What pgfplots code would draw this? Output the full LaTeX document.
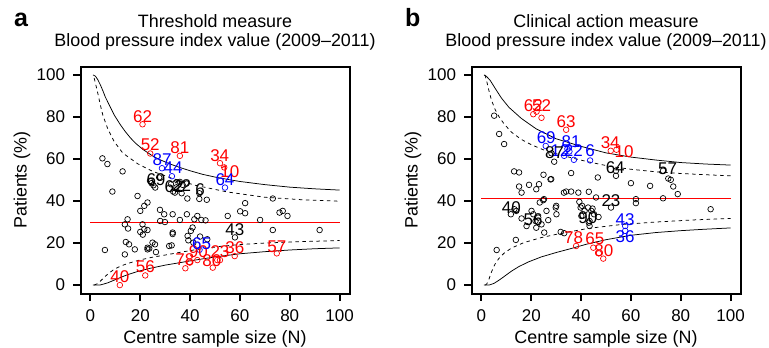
\documentclass[border=0pt]{standalone}
\usepackage{pgfplots}
\pgfplotsset{compat=1.18}
\usepackage{fontspec}
\setmainfont{Liberation Sans}
\definecolor{rred}{RGB}{255,0,0}
\definecolor{rblue}{RGB}{0,0,255}
\newcommand{\fs}{\fontsize{17bp}{20bp}\selectfont}
\pgfplotsset{
  funnel/.style={
    scale only axis, width=269bp, height=227bp,
    xmin=-4, xmax=104, ymin=-4, ymax=104,
    xtick={0,20,...,100}, ytick={0,20,...,100},
    tick align=outside, xtick pos=left, ytick pos=left,
    major tick length=7.5bp,
    tick style={black, line width=1bp},
    axis line style={black, line width=1bp},
    /pgf/number format/assume math mode=true,
    ticklabel style={font=\fs},
    yticklabel style={xshift=-4.5bp},
    xticklabel style={yshift=-5bp},
  },
  pts/.style={only marks, mark=o, mark size=2.8bp, mark options={line width=0.7bp, draw=#1}},
  lab/.style={only marks, mark=none, nodes near coords={\pgfplotspointmeta}, point meta=explicit symbolic,
     nodes near coords style={anchor=center, inner sep=0pt, text=#1, font=\fs}},
  sol/.style={black, line width=0.75bp, mark=none},
  das/.style={black, line width=0.75bp, mark=none, dash pattern=on 3.5bp off 3.5bp},
  ctr/.style={rred, line width=0.9bp, mark=none},
}
\begin{document}
\begin{tikzpicture}[x=1bp,y=1bp]
\useasboundingbox (0,0) rectangle (769,347);
% frames and ticks drawn first (as in the render where they showed)
\fill[white] (80.5,53.5) rectangle (349.5,280.5);
\fill[white] (471.5,53.5) rectangle (740.5,280.5);
\draw[black, line width=2bp] (80.5,53.5) -- (349.5,53.5) -- (349.5,280.5) -- (80.5,280.5) -- cycle;
\draw[black, line width=2bp] (471.5,53.5) -- (740.5,53.5) -- (740.5,280.5) -- (471.5,280.5) -- cycle;
\foreach \v in {0,20,40,60,80,100} {
  \draw[black, line width=2bp] (90.46+\v*2.4907,53.5) -- ++(0,-7.5);
  \draw[black, line width=2bp] (481.46+\v*2.4907,53.5) -- ++(0,-7.5);
  \draw[black, line width=2bp] (80.5,61.91+\v*2.1019) -- ++(-7.5,0);
  \draw[black, line width=2bp] (471.5,61.91+\v*2.1019) -- ++(-7.5,0);
}
% ---------------- panel a ----------------
\begin{axis}[funnel, at={(80.5bp,53.5bp)}, anchor=south west]
\addplot[ctr] coordinates {(0,29.7) (100,29.7)};
\addplot[sol] table {
x y
1 100
2 99.4
3 97.6
4 95.2
5 92.4
6 89.4
7.5 85.8
9.5 81
12 76.3
14 73
16 70.1
18 67.6
21 64.6
25 61.4
28 59.6
32 57.6
36 55.9
40 54.4
45 52.7
50 51.4
55 50.3
60 49.3
70 47.8
80 46.6
90 45.8
100 45.2
};
\addplot[sol] table {
x y
1 0
3 0
4 0.1
5 0.4
7 1.1
9 2.1
12 3.6
15 5.0
19 6.5
24 8.0
30 9.5
36 10.7
42 11.9
50 13.4
60 14.9
70 15.9
80 16.7
90 17.3
100 17.7
};
\addplot[das] table {
x y
1.5 98.5
2 96
3 91
4 85.5
5 80.7
7 74.2
9.5 68.3
13 62.8
19 57.7
25 54.1
33 50.7
42 47.5
55 44.3
70 41.8
85 40.6
100 39.9
};
\addplot[das] table {
x y
1.5 0
3 0.8
4 1.9
5 3.1
7 5.3
9.5 7.5
12 9.0
15 10.3
20 12.0
25 13.3
30 14.3
36 15.6
42 16.8
52 18.4
60 19.3
70 20.0
85 20.7
100 21.2
};
\addplot[pts=black] table {
x y
4.8 60.3
6.8 57.6
12.9 54.1
8.8 44.5
18.9 42.4
22.9 39.3
21.6 37.7
20.0 35.3
23.9 49.6
24.5 48.5
26.0 46.4
27.6 51.2
25.3 47.5
32.3 48.0
33.2 44.5
33.9 44.0
35.9 49.1
37.0 47.7
38.6 48.3
36.6 43.7
38.9 41.2
34.5 46.5
43.7 43.7
43.7 41.0
46.7 40.6
27.9 35.8
29.6 33.7
33.0 33.7
38.7 33.7
28.0 30.5
29.9 30.0
35.9 31.0
14.9 31.3
13.8 28.9
15.1 26.9
20.9 28.9
21.6 26.6
20.0 25.3
22.9 26.2
21.0 24.0
33.0 25.0
33.0 24.3
40.3 25.8
41.0 27.4
39.0 23.4
41.7 31.3
42.9 32.9
44.5 31.0
46.2 30.8
44.0 23.1
46.9 21.8
55.1 32.9
60.1 35.1
62.1 39.0
62.1 34.2
68.1 31.0
73.2 41.2
73.2 26.2
75.9 34.5
77.2 35.3
79.1 32.9
92.0 26.2
58.0 22.7
5.8 16.7
14.2 20.5
15.5 19.4
13.8 14.6
17.8 17.0
22.9 17.0
24.9 20.2
25.9 19.4
26.3 15.7
23.6 17.4
22.9 17.8
31.6 18.6
32.6 18.9
39.3 21.3
41.3 20.2
};
\addplot[pts=rred] table {
x y
20.9 76.5
24.0 62.6
35.9 61.5
52.0 58.0
53.7 56.0
11.8 0.0
22.0 4.6
38.1 8.0
39.9 10.7
42.9 11.9
49.1 8.3
50.9 11.9
52.0 11.9
57.9 13.8
74.8 15.1
};
\addplot[pts=rblue] table {
x y
28.7 55.6
32.7 51.8
54.0 46.4
43.8 16.8
};
\addplot[lab=rred] table[meta=l] {
x y l
20.9 80.3 62
24.0 66.6 52
35.9 65.2 81
51.9 61.8 34
56.0 54.2 10
11.8 4.0 40
22.0 8.6 56
37.9 12.2 78
43.3 15.7 90
48.7 11.5 80
52.0 15.7 23
58.0 17.8 36
74.8 18.1 57
};
\addplot[lab=rblue] table[meta=l] {
x y l
28.8 59.5 87
33.2 56.0 44
54.0 50.4 64
44.6 19.7 65
};
\addplot[lab=black] table[meta=l] {
x y l
26.3 50.4 69
33.6 46.9 62
36.6 47.2 22
44.0 45.6 6
58.0 26.6 43
};
\end{axis}
% ---------------- panel b ----------------
\begin{axis}[funnel, at={(471.5bp,53.5bp)}, anchor=south west]
\addplot[ctr] coordinates {(0,41.3) (100,41.3)};
\addplot[sol] table {
x y
1 100
2 99.3
3.5 97.4
5.5 93.6
8 89
11 84.6
16 79.3
22 74.3
30 69.6
40 66
50 62.9
60 60.9
70 59.5
80 58.3
90 57.6
100 57.1
};
\addplot[sol] table {
x y
1 0
3 0
5 0.8
7 2.3
9 4.0
12 6.6
15 8.8
19 11.1
24 13.4
30 15.5
36 17.4
42 19.4
50 21.6
60 23.7
70 25.0
80 25.9
90 26.6
100 27.2
};
\addplot[das] table {
x y
1.4 100
2 97.5
3 92.5
4 88
5.5 83.5
7 80.2
9 76.8
12 72.8
16 69.3
20 66.8
25 64.3
30 62.5
36 60.6
43 58.6
52 56.4
60 55.1
70 53.9
80 53.1
90 52.5
100 52
};
\addplot[das] table {
x y
1.5 0
2.1 0.5
3 2.8
4 6.2
5.4 9.9
7 12.7
9 15.1
12 17.6
17 20.2
24 22.6
31 24.4
43 27
56 28.8
70 30
85 31
100 31.7
};
\addplot[pts=black] table {
x y
5.1 80.6
7.1 71.9
9.1 67.1
6.1 16.7
13.1 54.1
15.1 53.6
15.1 46.9
16.1 44.0
19.1 47.7
22.0 45.6
23.1 48.0
24.9 52.5
28.0 50.4
27.7 50.3
28.1 62.7
29.2 58.7
33.1 44.0
34.0 44.5
36.0 44.5
36.0 53.3
38.9 44.0
43.1 44.4
46.7 51.2
46.0 41.7
52.0 36.9
54.0 52.0
54.0 54.4
60.0 48.5
67.7 47.2
72.9 54.4
75.0 50.7
76.0 50.1
77.0 46.9
78.8 43.3
72.9 41.3
62.0 40.9
62.0 39.0
92.0 36.1
44.6 36.4
47.0 32.4
39.3 39.6
39.8 36.9
40.4 37.7
41.4 35.3
42.8 36.9
44.1 35.3
45.2 33.7
40.1 32.9
43.4 30.5
43.4 28.1
43.1 29.7
30.0 37.7
30.1 33.7
29.8 36.9
25.1 40.9
24.8 40.4
23.4 39.3
26.1 35.3
26.8 30.9
24.1 28.9
20.1 35.3
20.8 33.7
21.7 30.5
22.8 32.1
22.0 27.3
18.1 28.1
16.1 31.7
14.0 35.3
13.2 36.1
11.8 33.7
13.8 21.5
25.2 25.0
31.8 25.3
33.2 24.7
};
\addplot[pts=rred] table {
x y
20.8 81.3
22.1 82.5
24.1 79.6
34.0 73.9
51.9 63.9
54.2 64.4
38.0 18.6
44.9 17.8
47.1 15.1
48.9 12.6
};
\addplot[pts=rblue] table {
x y
25.8 66.2
33.2 61.5
34.5 64.8
35.3 63.6
37.1 59.6
43.6 59.3
57.7 28.1
57.7 25.8
};
\addplot[lab=rred] table[meta=l] {
x y l
20.8 85.4 62
24.1 85.4 52
34.0 77.7 63
51.7 67.9 34
57.3 63.4 10
37.0 22.6 78
45.5 22.1 65
49.1 16.2 80
};
\addplot[lab=rblue] table[meta=l] {
x y l
26.0 70.3 69
36.0 68.2 81
31.6 64.2 12
36.9 64.2 22
43.6 63.9 6
57.7 31.3 43
57.7 23.1 36
};
\addplot[lab=black] table[meta=l] {
x y l
29.3 63.1 87
12.0 36.9 40
20.7 31.3 56
42.7 32.1 90
52.0 40.4 23
53.7 56.0 64
74.7 55.2 57
};
\end{axis}
% ---------------- titles and labels ----------------
\node[anchor=base west, inner sep=0, font=\fontsize{25bp}{28bp}\selectfont\bfseries] at (14,320.3) {a};
\node[anchor=base west, inner sep=0, font=\fontsize{25bp}{28bp}\selectfont\bfseries] at (405,320.3) {b};
\node[anchor=base, inner sep=0, font=\fontsize{17.9bp}{20bp}\selectfont] at (215,319.3) {Threshold measure};
\node[anchor=base, inner sep=0, font=\fontsize{17.9bp}{20bp}\selectfont] at (215,300.3) {Blood pressure index value (2009–2011)};
\node[anchor=base, inner sep=0, font=\fontsize{17.9bp}{20bp}\selectfont] at (606,319.3) {Clinical action measure};
\node[anchor=base, inner sep=0, font=\fontsize{17.9bp}{20bp}\selectfont] at (606,300.3) {Blood pressure index value (2009–2011)};
\node[anchor=base, inner sep=0, font=\fontsize{17.9bp}{20bp}\selectfont] at (215,3.7) {Centre sample size (N)};
\node[anchor=base, inner sep=0, font=\fontsize{17.9bp}{20bp}\selectfont] at (606,3.7) {Centre sample size (N)};
\node[rotate=90, inner sep=0, font=\fontsize{17.9bp}{20bp}\selectfont] at (22,167) {Patients (\%)};
\node[rotate=90, inner sep=0, font=\fontsize{17.9bp}{20bp}\selectfont] at (413,167) {Patients (\%)};
\end{tikzpicture}
\end{document}
